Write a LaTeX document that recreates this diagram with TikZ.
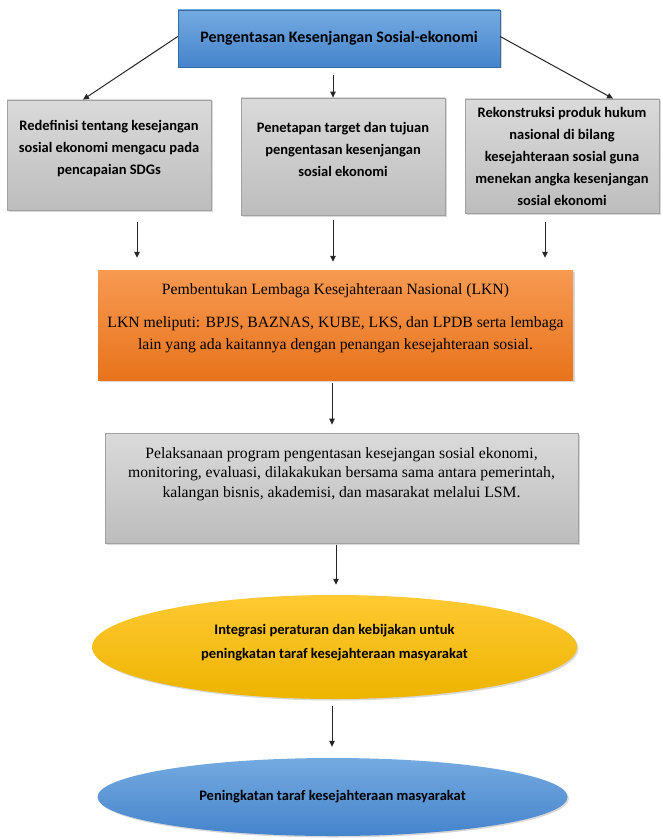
\documentclass[tikz,border=0pt]{standalone}
\usepackage{fontspec}
\setmainfont{Liberation Serif}
\newfontfamily\carlitofam{Carlito}
\usetikzlibrary{arrows.meta,shapes.geometric,shadows,calc}
\definecolor{blueT}{HTML}{74AAE0}
\definecolor{blueB}{HTML}{4584CC}
\definecolor{greyT}{HTML}{DADADA}
\definecolor{greyB}{HTML}{BDBDBD}
\definecolor{greyL}{HTML}{A0A0A0}
\definecolor{orT}{HTML}{F79A52}
\definecolor{orB}{HTML}{E8731C}
\definecolor{yeT}{HTML}{FFC933}
\definecolor{yeB}{HTML}{EDB400}
\tikzset{
  shd/.style={drop shadow={opacity=0.3,shadow xshift=1.5pt,shadow yshift=-1.5pt}},
  bluebox/.style={rectangle,draw=blueB!80!black,line width=0.4pt,top color=blueT,bottom color=blueB,shd,inner sep=0pt,align=center,font=\carlitofam\bfseries\fontsize{16}{19}\selectfont},
  greybox/.style={rectangle,draw=greyL,line width=0.8pt,top color=greyT,bottom color=greyB,shd,inner sep=0pt,align=center,font=\carlitofam\bfseries\fontsize{14.5}{22}\selectfont},
  greybig/.style={rectangle,draw=greyL,line width=0.8pt,top color=greyT,bottom color=greyB,shd,inner sep=0pt,align=center,font=\fontsize{15.7}{19.5}\selectfont},
  orbox/.style={rectangle,draw=none,top color=orT,bottom color=orB,shd,inner sep=0pt,align=center,font=\fontsize{15.7}{22}\selectfont},
  yell/.style={ellipse,draw=none,top color=yeT,bottom color=yeB,shd,inner sep=0pt,align=center,font=\carlitofam\bfseries\fontsize{14.5}{24}\selectfont},
  bell/.style={ellipse,draw=none,top color=blueT,bottom color=blueB,shd,inner sep=0pt,align=center,font=\carlitofam\bfseries\fontsize{14.5}{17}\selectfont},
  arr/.style={-{Triangle[length=6pt,width=5.5pt]},line width=1pt,black!85}
}
\begin{document}
\begin{tikzpicture}[x=1pt,y=-1pt]
\useasboundingbox (0,0) rectangle (663,840);
\fill[white] (0,0) rectangle (663,840);

\node[bluebox,minimum width=322pt,minimum height=57pt] (top) at (339,38.5) {Pengentasan Kesenjangan Sosial-ekonomi};

\node[greybox,minimum width=204pt,minimum height=110pt] (left) at (109,155) {\begin{tabular}{@{}c@{}}Redefinisi tentang kesejangan\\sosial ekonomi mengacu pada\\pencapaian SDGs\\[14pt]\end{tabular}};
\node[greybox,minimum width=204pt,minimum height=117pt] (mid) at (343,156.5) {\begin{tabular}{@{}c@{}}Penetapan target dan tujuan\\pengentasan kesenjangan\\sosial ekonomi\\[12pt]\end{tabular}};
\node[greybox,minimum width=194pt,minimum height=114pt] (right) at (562,156) {Rekonstruksi produk hukum\\nasional di bilang\\kesejahteraan sosial guna\\menekan angka kesenjangan\\sosial ekonomi};

\node[orbox,minimum width=475pt,minimum height=110pt] (lkn) at (335.5,325) {\begin{tabular}{@{}c@{}}Pembentukan Lembaga Kesejahteraan Nasional (LKN)\\[11pt]LKN meliputi: BPJS, BAZNAS, KUBE, LKS, dan LPDB serta lembaga\\lain yang ada kaitannya dengan penangan kesejahteraan sosial.\\[14pt]\end{tabular}};

\node[greybig,minimum width=473pt,minimum height=110pt] (pel) at (341.5,488) {\begin{tabular}{@{}c@{}}Pelaksanaan program pengentasan kesejangan sosial ekonomi,\\monitoring, evaluasi, dilakakukan bersama sama antara pemerintah,\\kalangan bisnis, akademisi, dan masarakat melalui LSM.\\[28pt]\end{tabular}};

\node[yell,minimum width=485pt,minimum height=104pt] (integ) at (334.5,647) {\begin{tabular}{@{}c@{}}Integrasi peraturan dan kebijakan untuk\\peningkatan taraf kesejahteraan masyarakat\\[10pt]\end{tabular}};

\node[bell,minimum width=470pt,minimum height=78pt] (hasil) at (332.5,797) {Peningkatan taraf kesejahteraan masyarakat};

\coordinate (cL) at (137,0);
\coordinate (cM) at (333,0);
\coordinate (cR) at (545,0);
\coordinate (c2) at (332,0);
\coordinate (c3) at (336,0);

\draw[arr] ([yshift=2pt]top.west) -- ([xshift=-26pt]left.north);
\draw[arr] ([yshift=2pt]top.east) -- ([xshift=51pt]right.north);
\draw[arr,shorten <=8pt] (top.south -| cM) -- (mid.north -| cM);

\draw[arr,shorten <=12pt,shorten >=12pt] (left.south -| cL) -- (lkn.north -| cL);
\draw[arr,shorten <=5pt,shorten >=8pt] (mid.south -| cM) -- (lkn.north -| cM);
\draw[arr,shorten <=9pt,shorten >=12pt] (right.south -| cR) -- (lkn.north -| cR);

\draw[arr,shorten <=3pt,shorten >=8pt] (lkn.south -| c2) -- (pel.north -| c2);
\draw[arr,shorten <=2pt,shorten >=10pt] (pel.south -| c3) -- (integ.north -| c3);
\draw[arr,shorten <=7pt,shorten >=11pt] (integ.south -| c2) -- (hasil.north -| c2);
\end{tikzpicture}
\end{document}
